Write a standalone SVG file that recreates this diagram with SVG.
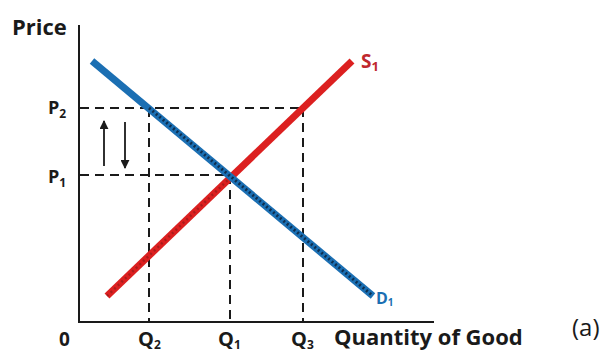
<svg xmlns="http://www.w3.org/2000/svg" width="612" height="352" viewBox="0 0 612 352">
<defs>
<style>
.lbl{font-family:"Open Sans","Liberation Sans",sans-serif;font-weight:bold;fill:#1a1a1a}
.sub{font-size:12px}
.axis{stroke:#1a1a1a;stroke-width:2;fill:none}
.dash{stroke:#1a1a1a;stroke-width:2;stroke-dasharray:9 6;fill:none}
.arr{stroke:#1a1a1a;stroke-width:1.8;fill:none}
</style>
<marker id="ah" viewBox="0 0 10 10" refX="9" refY="5" markerWidth="5" markerHeight="5" orient="auto" markerUnits="strokeWidth">
<path d="M0,0 L10,5 L0,10 z" fill="#1a1a1a"/>
</marker>
</defs>
<rect width="612" height="352" fill="#ffffff"/>
<g id="axes">
<line class="axis" x1="79" y1="25" x2="79" y2="322"/>
<line class="axis" x1="78" y1="322" x2="434" y2="322"/>
</g>
<g id="guides">
<line class="dash" x1="80" y1="108" x2="303" y2="108"/>
<line class="dash" x1="80" y1="175" x2="230" y2="175"/>
<line class="dash" x1="149" y1="108" x2="149" y2="321"/>
<line class="dash" x1="230" y1="175" x2="230" y2="321"/>
<line class="dash" x1="303" y1="108" x2="303" y2="321"/>
</g>
<g id="supply">
<line x1="107" y1="296" x2="352" y2="61" stroke="#dc2020" stroke-width="7"/>
<line x1="107" y1="296" x2="230" y2="178" stroke="#3a1010" stroke-width="2.5" stroke-dasharray="2 3" opacity="0.3"/>
<text x="361" y="68" class="lbl" style="fill:#c0282d;font-size:19px">S<tspan style="font-size:13px" dy="3">1</tspan></text>
</g>
<g id="demand">
<line x1="92" y1="61" x2="373" y2="296" stroke="#1b6fb3" stroke-width="7"/>
<line x1="149" y1="108" x2="373" y2="296" stroke="#0a1a30" stroke-width="3" stroke-dasharray="2 2.5" opacity="0.75"/>
<text x="376" y="304" class="lbl" style="fill:#1b6fb3;font-size:16px">D<tspan style="font-size:10px" dy="2">1</tspan></text>
</g>
<g id="connectors">
<line class="arr" x1="104" y1="166" x2="104" y2="121" marker-end="url(#ah)"/>
<line class="arr" x1="125" y1="122" x2="125" y2="168" marker-end="url(#ah)"/>
</g>
<g id="labels">
<text x="12" y="35" class="lbl" style="font-size:22px">Price</text>
<text x="48" y="114" class="lbl" style="font-size:18px">P<tspan class="sub" dy="4">2</tspan></text>
<text x="48" y="183" class="lbl" style="font-size:18px">P<tspan class="sub" dy="4">1</tspan></text>
<text x="59" y="346" class="lbl" style="font-size:19px">0</text>
<text x="138" y="346" class="lbl" style="font-size:20px">Q<tspan class="sub" dy="3">2</tspan></text>
<text x="218" y="346" class="lbl" style="font-size:20px">Q<tspan class="sub" dy="3">1</tspan></text>
<text x="291" y="346" class="lbl" style="font-size:20px">Q<tspan class="sub" dy="3">3</tspan></text>
<text x="334" y="345" class="lbl" style="font-size:22px">Quantity of Good</text>
<text x="572" y="336" style="font-family:'Open Sans','Liberation Sans',sans-serif;font-size:24px;fill:#1a1a1a">(a)</text>
</g>
</svg>
